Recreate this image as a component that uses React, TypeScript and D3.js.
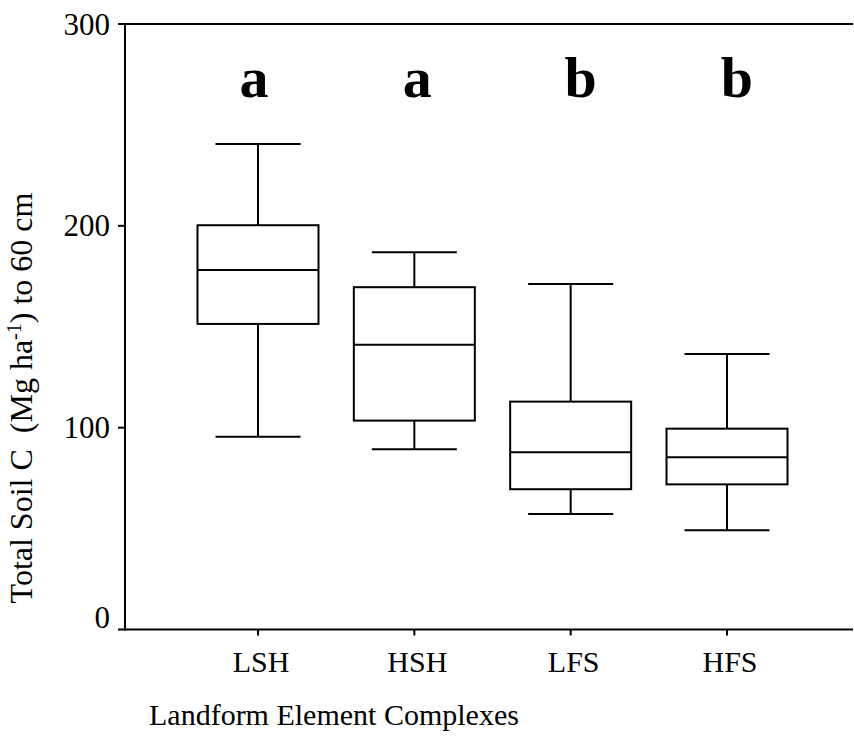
import React from "react";
import * as d3 from "d3";

const categories = ["LSH", "HSH", "LFS", "HFS"];
const whiskerLow = [95.5, 89.3, 57.2, 49.2];
const q1 = [151.4, 103.5, 69.5, 71.9];
const median = [178.1, 141.1, 87.8, 85.3];
const q3 = [200.3, 169.6, 112.9, 99.5];
const whiskerHigh = [240.6, 186.9, 171.2, 136.5];
const groupLetters = ["a", "a", "b", "b"];
const letterOffsets = [-4, 3, 10, 10];
const yTicks = [0, 100, 200, 300];

const W = 854;
const H = 736;
const font = "'Liberation Serif', 'Times New Roman', serif";

export default function App() {
  const y = d3.scaleLinear().domain([0, 300]).range([629.5, 24]);
  const x = d3.scalePoint<string>().domain(categories).range([258, 727]);
  const axisLeft = 125;
  const axisRight = 853;
  const boxW = 121;
  const capW = 85;

  return (
    <svg width={W} height={H} style={{ position: "absolute", left: 0, top: 0, background: "#fff" }}>
      <line x1={axisLeft} x2={axisRight} y1={y(300)} y2={y(300)} stroke="#000" strokeWidth={2} />
      <line x1={axisLeft} x2={axisRight} y1={y(0)} y2={y(0)} stroke="#000" strokeWidth={2} />
      <line x1={axisLeft} x2={axisLeft} y1={y(300) - 1} y2={y(0) + 1} stroke="#000" strokeWidth={2} />
      {yTicks.map((t) => (
        <g key={t}>
          <line x1={axisLeft - 7} x2={axisLeft} y1={y(t)} y2={y(t)} stroke="#000" strokeWidth={2} />
          <text
            x={110}
            y={y(t) + (t === 0 ? -12 : 0)}
            textAnchor="end"
            dominantBaseline="central"
            fontFamily={font}
            fontSize={31}
          >
            {t}
          </text>
        </g>
      ))}
      {categories.map((c) => (
        <g key={c}>
          <line x1={x(c)} x2={x(c)} y1={y(0)} y2={y(0) + 6} stroke="#000" strokeWidth={2} />
          <text x={x(c)! + 3} y={y(0) + 42} textAnchor="middle" fontFamily={font} fontSize={30}>
            {c}
          </text>
        </g>
      ))}
      {categories.map((c, i) => {
        const cx = x(c)!;
        return (
          <g key={"b" + c} stroke="#000" strokeWidth={2} fill="none">
            <line x1={cx} x2={cx} y1={y(whiskerHigh[i])} y2={y(q3[i])} />
            <line x1={cx} x2={cx} y1={y(q1[i])} y2={y(whiskerLow[i])} />
            <line x1={cx - capW / 2} x2={cx + capW / 2} y1={y(whiskerHigh[i])} y2={y(whiskerHigh[i])} />
            <line x1={cx - capW / 2} x2={cx + capW / 2} y1={y(whiskerLow[i])} y2={y(whiskerLow[i])} />
            <rect x={cx - boxW / 2} y={y(q3[i])} width={boxW} height={y(q1[i]) - y(q3[i])} fill="#fff" />
            <line x1={cx - boxW / 2} x2={cx + boxW / 2} y1={y(median[i])} y2={y(median[i])} />
          </g>
        );
      })}
      {categories.map((c, i) => (
        <text
          key={"l" + c}
          x={x(c)! + letterOffsets[i]}
          y={97}
          textAnchor="middle"
          fontFamily={font}
          fontWeight="bold"
          fontSize={58}
        >
          {groupLetters[i]}
        </text>
      ))}
      <text x={149} y={725} fontFamily={font} fontSize={30}>
        Landform Element Complexes
      </text>
      <text
        transform={`translate(32, 398) rotate(-90)`}
        textAnchor="middle"
        fontFamily={font}
        fontSize={32}
      >
        Total Soil C{"\u00a0\u00a0"}(Mg ha
        <tspan baselineShift="super" fontSize={20}>-1</tspan>) to 60 cm
      </text>
    </svg>
  );
}
